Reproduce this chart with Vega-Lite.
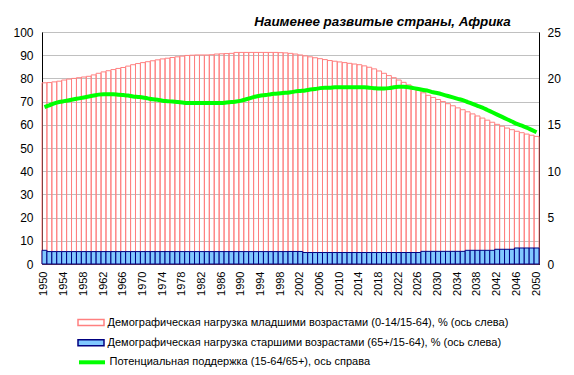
{
  "$schema": "https://vega.github.io/schema/vega-lite/v6.json",
  "autosize": {"type": "none"},
  "width": 497,
  "height": 232,
  "padding": {"left": 42, "top": 32, "right": 35, "bottom": 111},
  "background": "white",
  "config": {
    "view": {"stroke": "#808080"},
    "font": "Liberation Sans",
    "axis": {"labelFont": "Liberation Sans", "labelColor": "#000000", "domainColor": "#000000", "ticks": false, "title": null},
    "legend": {"labelFont": "Liberation Sans", "orient": "none", "legendX": 41.5, "direction": "vertical", "symbolSize": 169, "labelFontSize": 11, "labelColor": "#000000", "labelOffset": 9, "padding": 0, "labelLimit": 600, "title": null}
  },
  "title": {"text": "Наименее развитые страны, Африка", "font": "Liberation Sans", "fontSize": 13.4, "fontWeight": "bold", "fontStyle": "italic", "color": "#000000", "anchor": "middle", "dx": 92, "offset": -13, "frame": "group", "baseline": "alphabetic"},
  "data": {"values": [
    {"year": 1950, "young": 78.1, "old": 5.9, "support": 16.9},
    {"year": 1951, "young": 78.2, "old": 5.35, "support": 17.1},
    {"year": 1952, "young": 78.5, "old": 5.35, "support": 17.3},
    {"year": 1953, "young": 78.8, "old": 5.35, "support": 17.45},
    {"year": 1954, "young": 79.3, "old": 5.35, "support": 17.55},
    {"year": 1955, "young": 79.7, "old": 5.35, "support": 17.65},
    {"year": 1956, "young": 80.0, "old": 5.35, "support": 17.75},
    {"year": 1957, "young": 80.3, "old": 5.35, "support": 17.85},
    {"year": 1958, "young": 80.6, "old": 5.35, "support": 17.95},
    {"year": 1959, "young": 80.9, "old": 5.35, "support": 18.05},
    {"year": 1960, "young": 81.5, "old": 5.35, "support": 18.15},
    {"year": 1961, "young": 82.2, "old": 5.35, "support": 18.25},
    {"year": 1962, "young": 82.8, "old": 5.35, "support": 18.3},
    {"year": 1963, "young": 83.3, "old": 5.35, "support": 18.3},
    {"year": 1964, "young": 83.8, "old": 5.35, "support": 18.3},
    {"year": 1965, "young": 84.3, "old": 5.35, "support": 18.25},
    {"year": 1966, "young": 84.7, "old": 5.35, "support": 18.2},
    {"year": 1967, "young": 85.3, "old": 5.35, "support": 18.15},
    {"year": 1968, "young": 85.9, "old": 5.35, "support": 18.05},
    {"year": 1969, "young": 86.4, "old": 5.35, "support": 18.0},
    {"year": 1970, "young": 86.8, "old": 5.35, "support": 17.95},
    {"year": 1971, "young": 87.2, "old": 5.35, "support": 17.85},
    {"year": 1972, "young": 87.6, "old": 5.35, "support": 17.75},
    {"year": 1973, "young": 88.0, "old": 5.35, "support": 17.7},
    {"year": 1974, "young": 88.4, "old": 5.35, "support": 17.6},
    {"year": 1975, "young": 88.7, "old": 5.35, "support": 17.55},
    {"year": 1976, "young": 89.0, "old": 5.35, "support": 17.5},
    {"year": 1977, "young": 89.3, "old": 5.35, "support": 17.45},
    {"year": 1978, "young": 89.6, "old": 5.35, "support": 17.4},
    {"year": 1979, "young": 89.9, "old": 5.35, "support": 17.35},
    {"year": 1980, "young": 90.0, "old": 5.35, "support": 17.35},
    {"year": 1981, "young": 90.1, "old": 5.35, "support": 17.35},
    {"year": 1982, "young": 90.1, "old": 5.35, "support": 17.35},
    {"year": 1983, "young": 90.1, "old": 5.35, "support": 17.35},
    {"year": 1984, "young": 90.2, "old": 5.35, "support": 17.35},
    {"year": 1985, "young": 90.5, "old": 5.35, "support": 17.35},
    {"year": 1986, "young": 90.6, "old": 5.35, "support": 17.35},
    {"year": 1987, "young": 90.7, "old": 5.35, "support": 17.4},
    {"year": 1988, "young": 90.8, "old": 5.35, "support": 17.45},
    {"year": 1989, "young": 91.2, "old": 5.35, "support": 17.5},
    {"year": 1990, "young": 91.2, "old": 5.35, "support": 17.6},
    {"year": 1991, "young": 91.2, "old": 5.35, "support": 17.75},
    {"year": 1992, "young": 91.2, "old": 5.35, "support": 17.9},
    {"year": 1993, "young": 91.2, "old": 5.35, "support": 18.05},
    {"year": 1994, "young": 91.2, "old": 5.35, "support": 18.15},
    {"year": 1995, "young": 91.2, "old": 5.35, "support": 18.2},
    {"year": 1996, "young": 91.2, "old": 5.35, "support": 18.3},
    {"year": 1997, "young": 91.2, "old": 5.35, "support": 18.35},
    {"year": 1998, "young": 91.1, "old": 5.35, "support": 18.4},
    {"year": 1999, "young": 91.0, "old": 5.35, "support": 18.45},
    {"year": 2000, "young": 90.8, "old": 5.4, "support": 18.5},
    {"year": 2001, "young": 90.5, "old": 5.4, "support": 18.6},
    {"year": 2002, "young": 90.1, "old": 5.4, "support": 18.65},
    {"year": 2003, "young": 89.7, "old": 4.95, "support": 18.7},
    {"year": 2004, "young": 89.3, "old": 4.95, "support": 18.8},
    {"year": 2005, "young": 88.9, "old": 4.95, "support": 18.85},
    {"year": 2006, "young": 88.5, "old": 4.95, "support": 18.95},
    {"year": 2007, "young": 88.1, "old": 4.95, "support": 19.0},
    {"year": 2008, "young": 87.7, "old": 4.95, "support": 19.0},
    {"year": 2009, "young": 87.4, "old": 4.95, "support": 19.05},
    {"year": 2010, "young": 87.1, "old": 4.95, "support": 19.05},
    {"year": 2011, "young": 86.8, "old": 4.95, "support": 19.05},
    {"year": 2012, "young": 86.5, "old": 4.95, "support": 19.05},
    {"year": 2013, "young": 86.2, "old": 4.95, "support": 19.05},
    {"year": 2014, "young": 85.9, "old": 4.95, "support": 19.05},
    {"year": 2015, "young": 85.4, "old": 4.95, "support": 19.05},
    {"year": 2016, "young": 84.8, "old": 4.95, "support": 19.0},
    {"year": 2017, "young": 84.1, "old": 4.95, "support": 18.95},
    {"year": 2018, "young": 83.2, "old": 4.95, "support": 18.9},
    {"year": 2019, "young": 82.2, "old": 4.95, "support": 18.9},
    {"year": 2020, "young": 81.2, "old": 4.95, "support": 18.95},
    {"year": 2021, "young": 80.3, "old": 4.95, "support": 19.05},
    {"year": 2022, "young": 79.3, "old": 4.95, "support": 19.1},
    {"year": 2023, "young": 78.3, "old": 4.95, "support": 19.1},
    {"year": 2024, "young": 77.2, "old": 4.95, "support": 19.05},
    {"year": 2025, "young": 76.1, "old": 4.95, "support": 18.95},
    {"year": 2026, "young": 74.9, "old": 4.95, "support": 18.85},
    {"year": 2027, "young": 73.8, "old": 5.45, "support": 18.75},
    {"year": 2028, "young": 72.7, "old": 5.45, "support": 18.65},
    {"year": 2029, "young": 71.8, "old": 5.45, "support": 18.5},
    {"year": 2030, "young": 70.9, "old": 5.45, "support": 18.4},
    {"year": 2031, "young": 70.0, "old": 5.45, "support": 18.25},
    {"year": 2032, "young": 69.1, "old": 5.45, "support": 18.1},
    {"year": 2033, "young": 68.2, "old": 5.45, "support": 17.95},
    {"year": 2034, "young": 67.3, "old": 5.45, "support": 17.8},
    {"year": 2035, "young": 66.5, "old": 5.45, "support": 17.65},
    {"year": 2036, "young": 65.6, "old": 5.9, "support": 17.45},
    {"year": 2037, "young": 64.7, "old": 5.9, "support": 17.25},
    {"year": 2038, "young": 63.8, "old": 5.9, "support": 17.05},
    {"year": 2039, "young": 62.9, "old": 5.9, "support": 16.85},
    {"year": 2040, "young": 62.0, "old": 5.9, "support": 16.6},
    {"year": 2041, "young": 61.1, "old": 5.9, "support": 16.35},
    {"year": 2042, "young": 60.2, "old": 6.35, "support": 16.1},
    {"year": 2043, "young": 59.4, "old": 6.35, "support": 15.85},
    {"year": 2044, "young": 58.6, "old": 6.35, "support": 15.6},
    {"year": 2045, "young": 57.9, "old": 6.35, "support": 15.35},
    {"year": 2046, "young": 57.2, "old": 6.9, "support": 15.1},
    {"year": 2047, "young": 56.6, "old": 6.9, "support": 14.9},
    {"year": 2048, "young": 56.0, "old": 6.9, "support": 14.7},
    {"year": 2049, "young": 55.5, "old": 6.9, "support": 14.45},
    {"year": 2050, "young": 55.0, "old": 6.9, "support": 14.2}
  ]},
  "encoding": {
    "x": {
      "field": "year", "type": "ordinal",
      "scale": {"paddingInner": 0, "paddingOuter": 0},
      "axis": {"values": [1950,1954,1958,1962,1966,1970,1974,1978,1982,1986,1990,1994,1998,2002,2006,2010,2014,2018,2022,2026,2030,2034,2038,2042,2046,2050], "labelAngle": -90, "labelFontSize": 11, "labelPadding": 7, "domainColor": "#000000", "domainWidth": 1, "grid": false}
    }
  },
  "layer": [
    {
      "layer": [
        {
          "mark": {"type": "bar", "filled": false, "strokeWidth": 1},
          "encoding": {
            "y": {"field": "young", "type": "quantitative", "scale": {"domain": [0, 100], "nice": false},
                  "axis": {"orient": "left", "values": [0,10,20,30,40,50,60,70,80,90,100], "labelFontSize": 12, "labelPadding": 9, "grid": true, "gridColor": "#C0C0C0", "gridWidth": 1, "domainColor": "#000000"}},
            "stroke": {"datum": "Демографическая нагрузка младшими возрастами (0-14/15-64), % (ось слева)", "type": "nominal",
              "scale": {"range": ["#FF8080"]},
              "legend": {"legendY": 283, "symbolType": "M-2,-0.45H2V0.45H-2Z", "symbolFillColor": "transparent", "symbolStrokeWidth": 1.5}}
          }
        },
        {
          "mark": {"type": "bar", "stroke": "#000080", "strokeWidth": 1},
          "encoding": {
            "y": {"field": "old", "type": "quantitative",
                  "axis": {"orient": "left", "values": [0,10,20,30,40,50,60,70,80,90,100], "labelFontSize": 12, "labelPadding": 9, "grid": true, "gridColor": "#C0C0C0", "gridWidth": 1, "domainColor": "#000000"}},
            "fill": {"datum": "Демографическая нагрузка старшими возрастами (65+/15-64), % (ось слева)", "type": "nominal",
              "scale": {"range": ["#80C8FF"]},
              "legend": {"legendY": 303.2, "symbolType": "M-2,-0.45H2V0.45H-2Z", "symbolStrokeColor": "#000080", "symbolStrokeWidth": 1.5}}
          }
        }
      ]
    },
    {
      "mark": {"type": "line", "strokeWidth": 4, "interpolate": "monotone"},
      "encoding": {
        "y": {"field": "support", "type": "quantitative", "scale": {"domain": [0, 25], "nice": false},
              "axis": {"orient": "right", "values": [0,5,10,15,20,25], "labelFontSize": 12, "labelPadding": 8, "grid": false, "domainColor": "#000000"}},
        "color": {"datum": "Потенциальная поддержка (15-64/65+), ось справа", "type": "nominal",
          "scale": {"range": ["#00FF00"]},
          "legend": {"legendY": 321.8, "symbolType": "M-2,0H2", "symbolStrokeWidth": 4}}
      }
    }
  ],
  "resolve": {"scale": {"y": "independent"}}
}
